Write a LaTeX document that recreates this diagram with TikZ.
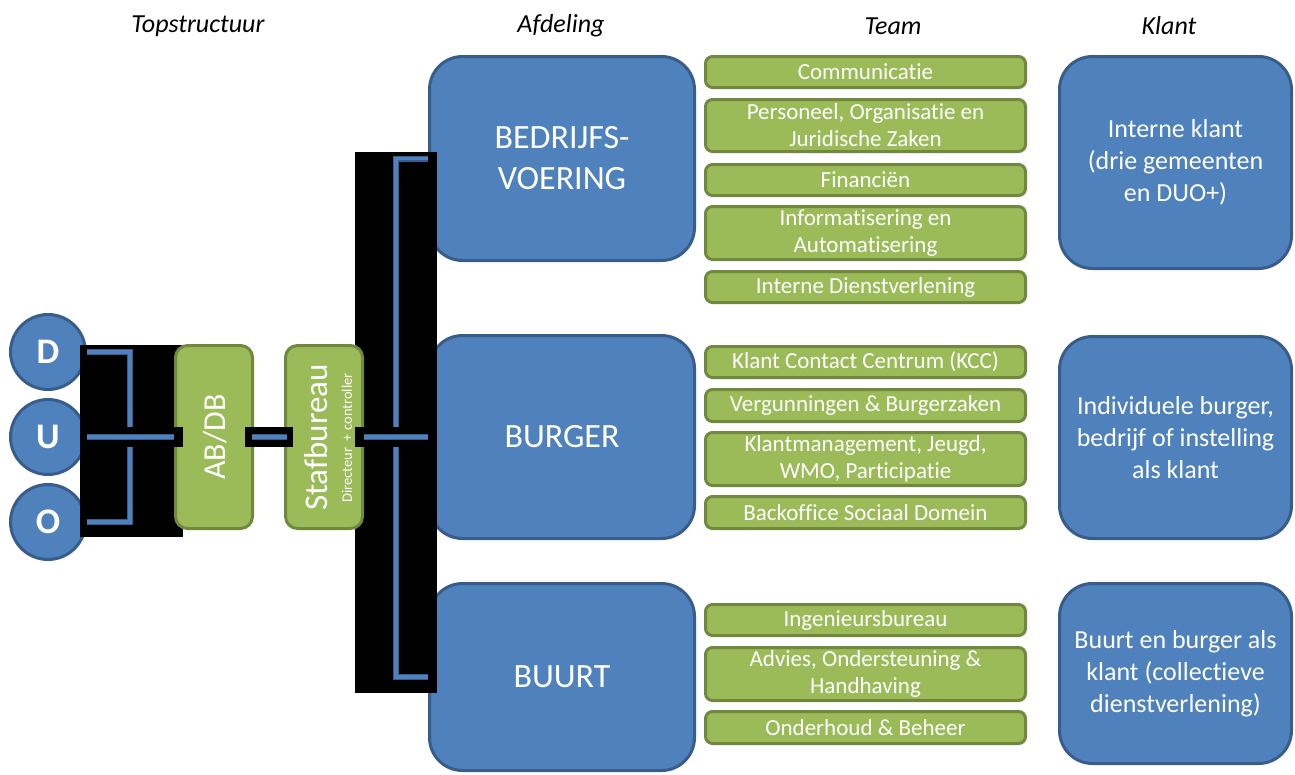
\documentclass[tikz,border=0pt]{standalone}
\usepackage{fontspec}
\setmainfont{Carlito}[RawFeature={-liga;-clig;-calt;-rlig;-dlig}]
\definecolor{bfill}{HTML}{4F81BD}
\definecolor{bedge}{HTML}{385D8A}
\definecolor{gfill}{HTML}{9BBB59}
\definecolor{gedge}{HTML}{71893F}
\tikzset{
  dept/.style={rectangle, rounded corners=33pt, fill=bfill, draw=bedge, line width=3pt,
    minimum width=265pt, text=white, align=center, inner sep=0pt,
    font=\fontsize{34}{41}\selectfont},
  klantbox/.style={rectangle, rounded corners=33pt, fill=bfill, draw=bedge, line width=3pt,
    minimum width=232pt, text=white, align=center, inner sep=0pt,
    font=\fontsize{26}{32}\selectfont},
  team/.style={rectangle, rounded corners=7pt, fill=gfill, draw=gedge, line width=3pt,
    minimum width=320pt, text=white, align=center, inner sep=0pt,
    font=\fontsize{23}{27}\selectfont},
  topbox/.style={rectangle, rounded corners=12pt, fill=gfill, draw=gedge, line width=3pt,
    minimum width=77pt, minimum height=183pt, inner sep=0pt},
  letter/.style={circle, fill=bfill, draw=bedge, line width=3pt, minimum size=75pt,
    inner sep=0pt, text=white, font=\fontsize{36}{40}\selectfont\bfseries},
  hdr/.style={font=\fontsize{26}{30}\selectfont\itshape, text=black},
  conn/.style={line width=6pt, draw=bedge, postaction={draw=bfill, line width=3.6pt}},
  casing/.style={line width=20pt, draw=black},
}
\begin{document}
\begin{tikzpicture}[x=1pt,y=-1pt]
\useasboundingbox (0,0) rectangle (1295,774);

% headers
\node[hdr] (h1) at (198,26) {Topstructuur};
\node[hdr] (h2) at (561,26) {Afdeling};
\node[hdr] (h3) at (893,26) {Team};
\node[hdr] (h4) at (1169,26) {Klant};

% DUO circles
\node[letter] (D) at (48,352) {D};
\node[letter] (U) at (48,437) {U};
\node[letter] (O) at (48,522) {O};

% departments
\node[dept, minimum height=204pt] (Bedr) at (562,158.5) {BEDRIJFS-\\VOERING};
\node[dept, minimum height=203pt] (Burger) at (562,437) {BURGER};
\node[dept, minimum height=187pt] (Buurt) at (562,677) {BUURT};

% teams
\node[team, minimum height=31pt] (t1) at (865.5,72) {Communicatie};
\node[team, minimum height=52pt] (t2) at (865.5,125.5) {Personeel, Organisatie en\\Juridische Zaken};
\node[team, minimum height=31pt] (t3) at (865.5,180) {Financiën};
\node[team, minimum height=53pt] (t4) at (865.5,233) {Informatisering en\\Automatisering};
\node[team, minimum height=31pt] (t5) at (865.5,287) {Interne Dienstverlening};
\node[team, minimum height=31pt] (t6) at (865.5,362) {Klant Contact Centrum (KCC)};
\node[team, minimum height=32pt] (t7) at (865.5,405.5) {Vergunningen \& Burgerzaken};
\node[team, minimum height=53pt] (t8) at (865.5,459) {Klantmanagement, Jeugd,\\WMO, Participatie};
\node[team, minimum height=32pt] (t9) at (865.5,512.5) {Backoffice Sociaal Domein};
\node[team, minimum height=31pt] (t10) at (865.5,620) {Ingenieursbureau};
\node[team, minimum height=53pt] (t11) at (865.5,674) {Advies, Ondersteuning \&\\Handhaving};
\node[team, minimum height=32pt] (t12) at (865.5,727.5) {Onderhoud \& Beheer};

% klant
\node[klantbox, minimum height=212pt] (k1) at (1175.5,162.5) {Interne klant\\(drie gemeenten\\en DUO+)};
\node[klantbox, minimum height=202pt] (k2) at (1175.5,437.5) {Individuele burger,\\bedrijf of instelling\\als klant};
\node[klantbox, minimum height=180pt] (k3) at (1175.5,673.5) {Buurt en burger als\\klant (collectieve\\dienstverlening)};

% black backgrounds
\fill[black] (80,345) rectangle (183,537);
\fill[black] (355,152) rectangle (437,693);

% top structure boxes
\node[topbox] (ABDB) at (214,437) {};
\node[topbox] (Staf) at (324,437) {};
\node[rotate=90, text=white, font=\fontsize{32}{36}\selectfont] (abdbtxt) at (215,437) {AB/DB};
\node[rotate=90, text=white, font=\fontsize{33}{36}\selectfont] (staftxt) at (316,437.5) {Stafbureau};
\node[rotate=90, text=white, font=\fontsize{14.5}{16}\selectfont] (dirtxt) at (347,438) {Directeur~ + controller};

% brackets
\coordinate (lspine) at (130,437);
\coordinate (rspine) at (396,437);
\draw[conn] (D.east) -| (lspine) |- (O.east);
\draw[conn] (Bedr.west) -| (rspine) |- (Buurt.west);

% connectors with black casing
\draw[casing] (U.east) -- ([xshift=9pt]ABDB.west);
\draw[conn] (U.east) -- (ABDB.west);
\draw[casing] ([xshift=-9pt]ABDB.east) -- ([xshift=9pt]Staf.west);
\draw[conn] ([xshift=-2pt]ABDB.east) -- ([xshift=3pt]Staf.west);
\draw[casing] ([xshift=-9pt]Staf.east) -- (Burger.west);
\draw[conn] (Staf.east) -- (Burger.west);
\end{tikzpicture}
\end{document}
